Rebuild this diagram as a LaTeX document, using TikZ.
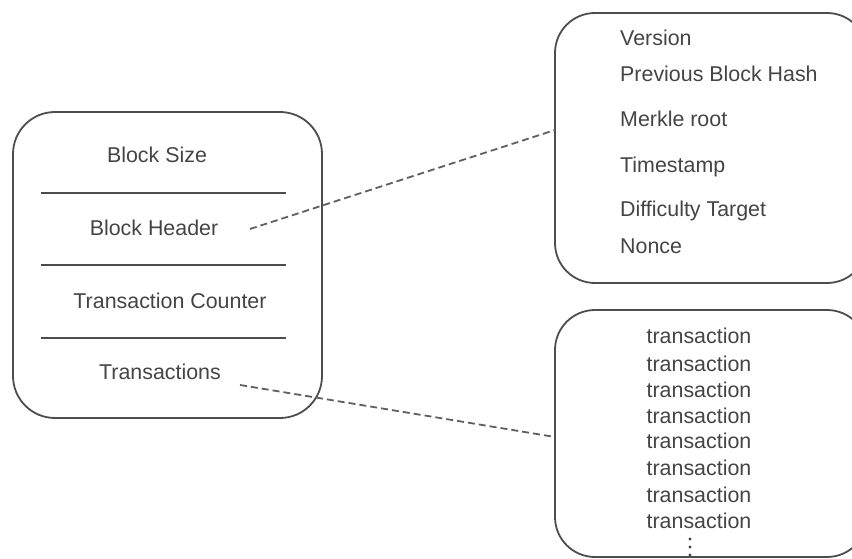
\documentclass[tikz,border=0pt]{standalone}
\usepackage{fontspec}
\setmainfont{Liberation Sans}
\definecolor{boxline}{HTML}{4D4D4D}
\definecolor{txtgray}{HTML}{444444}
\begin{document}
\begin{tikzpicture}[x=1pt,y=-1pt]
      \tikzstyle{blk} = [draw=boxline, line width=1.8pt, rounded corners=42pt, inner sep=0pt]
      \tikzstyle{lbl} = [text=txtgray, inner sep=0pt, font=\fontsize{21.4}{25}\selectfont]
      \tikzstyle{link} = [draw=boxline!90, line width=1.8pt, dash pattern=on 7pt off 4pt]
      \clip (0,0) rectangle (852,559);

      % the block
      \node[blk, minimum width=309pt, minimum height=306pt] (block) at (167.5,265) {};
      \draw[boxline, line width=1.8pt] (41,193) -- (286,193);
      \draw[boxline, line width=1.8pt] (41,265) -- (286,265);
      \draw[boxline, line width=1.8pt] (41,338) -- (286,338);
      \node[lbl, anchor=base] (size) at (157,163) {Block Size};
      \node[lbl, anchor=base] (hdr) at (154,236) {Block Header};
      \node[lbl, anchor=base] (cnt) at (170,308) {Transaction Counter};
      \node[lbl, anchor=base] (txs) at (160,379) {Transactions};

      % header fields
      \node[blk, rounded corners=40pt, minimum width=312pt, minimum height=270pt] (hbox) at (711,148) {};
      \node[lbl, anchor=base west] (ver) at (620,46) {Version};
      \node[lbl, anchor=base west] (prev) at (620,82) {Previous Block Hash};
      \node[lbl, anchor=base west] (mrk) at (620,127) {Merkle root};
      \node[lbl, anchor=base west] (ts) at (620,173) {Timestamp};
      \node[lbl, anchor=base west] (diff) at (620,217) {Difficulty Target};
      \node[lbl, anchor=base west] (nonce) at (620,253) {Nonce};

      % transaction list
      \node[blk, rounded corners=40pt, minimum width=312pt, minimum height=247pt] (tbox) at (711,433.5) {};
      \foreach \i/\y in {1/343,2/371,3/397,4/423,5/448,6/475,7/502,8/528}
        \node[lbl, anchor=base] (tx\i) at (699,\y) {transaction};
      \foreach \y in {539,547,555}
        \fill[txtgray] (690,\y) circle (1.7pt);

      \coordinate (h0) at (250,229);
      \coordinate (h1) at (555,130);
      \coordinate (t0) at (240,385);
      \coordinate (t1) at (555,437);
      \draw[link] (h0) to (h1);
      \draw[link] (t0) to (t1);
    \end{tikzpicture}
\end{document}
